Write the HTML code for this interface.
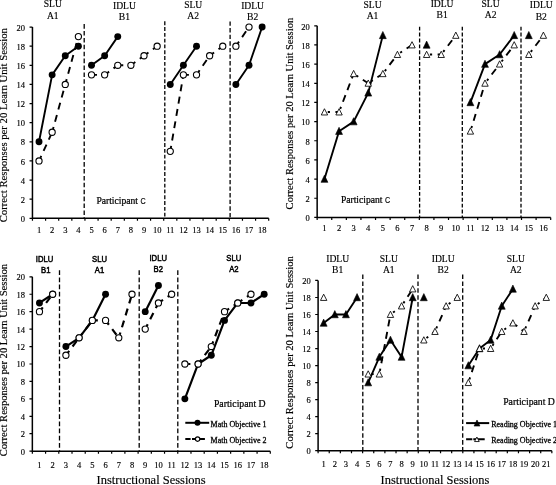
<!DOCTYPE html>
<html><head><meta charset="utf-8"><title>Figure</title>
<style>
html,body{margin:0;padding:0;background:#fff;}
body{width:556px;height:485px;overflow:hidden;}
svg{display:block;}
text{stroke:#000;stroke-width:.15px;}
.lg{stroke-width:.28px;}
.cal{stroke-width:.5px;}
.pt{stroke-width:.22px;}
</style></head><body>
<svg width="556" height="485" viewBox="0 0 556 485">
<rect width="556" height="485" fill="#fff"/>
<g>
<line x1="84.2" y1="24.1" x2="84.2" y2="218.3" stroke="#000" stroke-width="1.3" stroke-dasharray="4.55 2.35"/>
<line x1="164.8" y1="21.3" x2="164.8" y2="218.3" stroke="#000" stroke-width="1.3" stroke-dasharray="3.83 1.97"/>
<line x1="230.1" y1="21.5" x2="230.1" y2="218.3" stroke="#000" stroke-width="1.3" stroke-dasharray="4.36 2.24"/>
<path d="M32.45 27.05 V218.3 H268.7" fill="none" stroke="#000" stroke-width="1.5"/>
<path d="M32.45 218.3h-2.9M32.45 199.18h-2.9M32.45 180.05h-2.9M32.45 160.93h-2.9M32.45 141.8h-2.9M32.45 122.68h-2.9M32.45 103.55h-2.9M32.45 84.43h-2.9M32.45 65.3h-2.9M32.45 46.18h-2.9M32.45 27.05h-2.9M32.45 218.3v2.5M45.58 218.3v2.5M58.7 218.3v2.5M71.83 218.3v2.5M84.95 218.3v2.5M98.08 218.3v2.5M111.2 218.3v2.5M124.33 218.3v2.5M137.45 218.3v2.5M150.57 218.3v2.5M163.7 218.3v2.5M176.82 218.3v2.5M189.95 218.3v2.5M203.07 218.3v2.5M216.2 218.3v2.5M229.32 218.3v2.5M242.45 218.3v2.5M255.57 218.3v2.5M268.7 218.3v2.5" fill="none" stroke="#000" stroke-width="1.2"/>
<g font-family='"Liberation Serif", serif' font-size="8.5" fill="#000" stroke="#000" stroke-width="0.15">
<text x="25.05" y="221.9" text-anchor="end">0</text>
<text x="25.05" y="202.78" text-anchor="end">2</text>
<text x="25.05" y="183.65" text-anchor="end">4</text>
<text x="25.05" y="164.53" text-anchor="end">6</text>
<text x="25.05" y="145.4" text-anchor="end">8</text>
<text x="25.05" y="126.28" text-anchor="end">10</text>
<text x="25.05" y="107.15" text-anchor="end">12</text>
<text x="25.05" y="88.03" text-anchor="end">14</text>
<text x="25.05" y="68.9" text-anchor="end">16</text>
<text x="25.05" y="49.78" text-anchor="end">18</text>
<text x="25.05" y="30.65" text-anchor="end">20</text>
<text x="39.01" y="232.6" text-anchor="middle">1</text>
<text x="52.14" y="232.6" text-anchor="middle">2</text>
<text x="65.26" y="232.6" text-anchor="middle">3</text>
<text x="78.39" y="232.6" text-anchor="middle">4</text>
<text x="91.51" y="232.6" text-anchor="middle">5</text>
<text x="104.64" y="232.6" text-anchor="middle">6</text>
<text x="117.76" y="232.6" text-anchor="middle">7</text>
<text x="130.89" y="232.6" text-anchor="middle">8</text>
<text x="144.01" y="232.6" text-anchor="middle">9</text>
<text x="157.14" y="232.6" text-anchor="middle">10</text>
<text x="170.26" y="232.6" text-anchor="middle">11</text>
<text x="183.39" y="232.6" text-anchor="middle">12</text>
<text x="196.51" y="232.6" text-anchor="middle">13</text>
<text x="209.64" y="232.6" text-anchor="middle">14</text>
<text x="222.76" y="232.6" text-anchor="middle">15</text>
<text x="235.89" y="232.6" text-anchor="middle">16</text>
<text x="249.01" y="232.6" text-anchor="middle">17</text>
<text x="262.14" y="232.6" text-anchor="middle">18</text>
</g>
<polyline points="39.01,141.8 52.14,74.86 65.26,55.74 78.39,46.18" fill="none" stroke="#000" stroke-width="1.9" stroke-linejoin="round"/>
<polyline points="91.51,65.3 104.64,55.74 117.76,36.61" fill="none" stroke="#000" stroke-width="1.9" stroke-linejoin="round"/>
<polyline points="170.26,84.43 183.39,65.3 196.51,46.18" fill="none" stroke="#000" stroke-width="1.9" stroke-linejoin="round"/>
<polyline points="235.89,84.43 249.01,65.3 262.14,27.05" fill="none" stroke="#000" stroke-width="1.9" stroke-linejoin="round"/>
<circle cx="39.01" cy="141.8" r="3.45" fill="#000"/>
<circle cx="52.14" cy="74.86" r="3.45" fill="#000"/>
<circle cx="65.26" cy="55.74" r="3.45" fill="#000"/>
<circle cx="78.39" cy="46.18" r="3.45" fill="#000"/>
<circle cx="91.51" cy="65.3" r="3.45" fill="#000"/>
<circle cx="104.64" cy="55.74" r="3.45" fill="#000"/>
<circle cx="117.76" cy="36.61" r="3.45" fill="#000"/>
<circle cx="170.26" cy="84.43" r="3.45" fill="#000"/>
<circle cx="183.39" cy="65.3" r="3.45" fill="#000"/>
<circle cx="196.51" cy="46.18" r="3.45" fill="#000"/>
<circle cx="235.89" cy="84.43" r="3.45" fill="#000"/>
<circle cx="249.01" cy="65.3" r="3.45" fill="#000"/>
<circle cx="262.14" cy="27.05" r="3.45" fill="#000"/>
<path d="M39.01 160.93L52.14 132.24M52.14 132.24L65.26 84.43M65.26 84.43L78.39 36.61" fill="none" stroke="#000" stroke-width="1.9" stroke-dasharray="0 3.3 2.2 5.5 7 5.5 7 5.5 7 5.5 7 5.5 7 5.5 7 5.5 7 5.5"/>
<path d="M91.51 74.86L104.64 74.86M104.64 74.86L117.76 65.3M117.76 65.3L130.89 65.3M130.89 65.3L144.01 55.74M144.01 55.74L157.14 46.18" fill="none" stroke="#000" stroke-width="1.9" stroke-dasharray="0 3.3 2.2 5.5 7 5.5 7 5.5 7 5.5 7 5.5 7 5.5 7 5.5 7 5.5"/>
<path d="M170.26 151.36L183.39 74.86M183.39 74.86L196.51 74.86M196.51 74.86L209.64 55.74M209.64 55.74L222.76 46.18" fill="none" stroke="#000" stroke-width="1.9" stroke-dasharray="0 3.3 2.2 5.5 7 5.5 7 5.5 7 5.5 7 5.5 7 5.5 7 5.5 7 5.5"/>
<path d="M235.89 46.18L249.01 27.05" fill="none" stroke="#000" stroke-width="1.9" stroke-dasharray="0 3.3 2.2 5.5 7 5.5 7 5.5 7 5.5 7 5.5 7 5.5 7 5.5 7 5.5"/>
<circle cx="39.01" cy="160.93" r="3.1" fill="#fff" stroke="#000" stroke-width="1.1"/>
<circle cx="52.14" cy="132.24" r="3.1" fill="#fff" stroke="#000" stroke-width="1.1"/>
<circle cx="65.26" cy="84.43" r="3.1" fill="#fff" stroke="#000" stroke-width="1.1"/>
<circle cx="78.39" cy="36.61" r="3.1" fill="#fff" stroke="#000" stroke-width="1.1"/>
<circle cx="91.51" cy="74.86" r="3.1" fill="#fff" stroke="#000" stroke-width="1.1"/>
<circle cx="104.64" cy="74.86" r="3.1" fill="#fff" stroke="#000" stroke-width="1.1"/>
<circle cx="117.76" cy="65.3" r="3.1" fill="#fff" stroke="#000" stroke-width="1.1"/>
<circle cx="130.89" cy="65.3" r="3.1" fill="#fff" stroke="#000" stroke-width="1.1"/>
<circle cx="144.01" cy="55.74" r="3.1" fill="#fff" stroke="#000" stroke-width="1.1"/>
<circle cx="157.14" cy="46.18" r="3.1" fill="#fff" stroke="#000" stroke-width="1.1"/>
<circle cx="170.26" cy="151.36" r="3.1" fill="#fff" stroke="#000" stroke-width="1.1"/>
<circle cx="183.39" cy="74.86" r="3.1" fill="#fff" stroke="#000" stroke-width="1.1"/>
<circle cx="196.51" cy="74.86" r="3.1" fill="#fff" stroke="#000" stroke-width="1.1"/>
<circle cx="209.64" cy="55.74" r="3.1" fill="#fff" stroke="#000" stroke-width="1.1"/>
<circle cx="222.76" cy="46.18" r="3.1" fill="#fff" stroke="#000" stroke-width="1.1"/>
<circle cx="235.89" cy="46.18" r="3.1" fill="#fff" stroke="#000" stroke-width="1.1"/>
<circle cx="249.01" cy="27.05" r="3.1" fill="#fff" stroke="#000" stroke-width="1.1"/>
<text font-family='"Liberation Serif", serif' font-size="9.6" font-weight="normal" text-anchor="middle" stroke="#000" stroke-width="0.12"><tspan x="52.8" y="7.2">SLU</tspan><tspan x="52.8" y="19.1">A1</tspan></text>
<text font-family='"Liberation Serif", serif' font-size="9.6" font-weight="normal" text-anchor="middle" stroke="#000" stroke-width="0.12"><tspan x="124.4" y="8.6">IDLU</tspan><tspan x="124.4" y="19.9">B1</tspan></text>
<text font-family='"Liberation Serif", serif' font-size="9.6" font-weight="normal" text-anchor="middle" stroke="#000" stroke-width="0.12"><tspan x="193.2" y="7.5">SLU</tspan><tspan x="193.2" y="19.1">A2</tspan></text>
<text font-family='"Liberation Serif", serif' font-size="9.6" font-weight="normal" text-anchor="middle" stroke="#000" stroke-width="0.12"><tspan x="252.6" y="9">IDLU</tspan><tspan x="252.6" y="20">B2</tspan></text>
</g>
<g>
<line x1="419.6" y1="26.7" x2="419.6" y2="217.4" stroke="#000" stroke-width="1.3" stroke-dasharray="3.89 2.01"/>
<line x1="462.3" y1="26.7" x2="462.3" y2="217.4" stroke="#000" stroke-width="1.3" stroke-dasharray="3.89 2.01"/>
<line x1="521" y1="26.7" x2="521" y2="217.4" stroke="#000" stroke-width="1.3" stroke-dasharray="3.89 2.01"/>
<path d="M317.15 25.8 V217.4 H550.7" fill="none" stroke="#000" stroke-width="1.5"/>
<path d="M317.15 217.4h-2.9M317.15 198.24h-2.9M317.15 179.08h-2.9M317.15 159.92h-2.9M317.15 140.76h-2.9M317.15 121.6h-2.9M317.15 102.44h-2.9M317.15 83.28h-2.9M317.15 64.12h-2.9M317.15 44.96h-2.9M317.15 25.8h-2.9M317.15 217.4v2.5M331.75 217.4v2.5M346.34 217.4v2.5M360.94 217.4v2.5M375.54 217.4v2.5M390.13 217.4v2.5M404.73 217.4v2.5M419.33 217.4v2.5M433.93 217.4v2.5M448.52 217.4v2.5M463.12 217.4v2.5M477.72 217.4v2.5M492.31 217.4v2.5M506.91 217.4v2.5M521.51 217.4v2.5M536.1 217.4v2.5M550.7 217.4v2.5" fill="none" stroke="#000" stroke-width="1.2"/>
<g font-family='"Liberation Serif", serif' font-size="8.5" fill="#000" stroke="#000" stroke-width="0.15">
<text x="309.75" y="221.15" text-anchor="end">0</text>
<text x="309.75" y="201.99" text-anchor="end">2</text>
<text x="309.75" y="182.83" text-anchor="end">4</text>
<text x="309.75" y="163.67" text-anchor="end">6</text>
<text x="309.75" y="144.51" text-anchor="end">8</text>
<text x="309.75" y="125.35" text-anchor="end">10</text>
<text x="309.75" y="106.19" text-anchor="end">12</text>
<text x="309.75" y="87.03" text-anchor="end">14</text>
<text x="309.75" y="67.87" text-anchor="end">16</text>
<text x="309.75" y="48.71" text-anchor="end">18</text>
<text x="309.75" y="29.55" text-anchor="end">20</text>
<text x="324.45" y="231.3" text-anchor="middle">1</text>
<text x="339.05" y="231.3" text-anchor="middle">2</text>
<text x="353.64" y="231.3" text-anchor="middle">3</text>
<text x="368.24" y="231.3" text-anchor="middle">4</text>
<text x="382.84" y="231.3" text-anchor="middle">5</text>
<text x="397.43" y="231.3" text-anchor="middle">6</text>
<text x="412.03" y="231.3" text-anchor="middle">7</text>
<text x="426.63" y="231.3" text-anchor="middle">8</text>
<text x="441.22" y="231.3" text-anchor="middle">9</text>
<text x="455.82" y="231.3" text-anchor="middle">10</text>
<text x="470.42" y="231.3" text-anchor="middle">11</text>
<text x="485.01" y="231.3" text-anchor="middle">12</text>
<text x="499.61" y="231.3" text-anchor="middle">13</text>
<text x="514.21" y="231.3" text-anchor="middle">14</text>
<text x="528.8" y="231.3" text-anchor="middle">15</text>
<text x="543.4" y="231.3" text-anchor="middle">16</text>
</g>
<polyline points="324.45,179.08 339.05,131.18 353.64,121.6 368.24,92.86 382.84,35.38" fill="none" stroke="#000" stroke-width="1.9" stroke-linejoin="round"/>
<polyline points="470.42,102.44 485.01,64.12 499.61,54.54 514.21,35.38" fill="none" stroke="#000" stroke-width="1.9" stroke-linejoin="round"/>
<polygon points="324.45,175.18 321,182.33 327.9,182.33" fill="#000" stroke="#000" stroke-width="0.6"/>
<polygon points="339.05,127.28 335.6,134.43 342.5,134.43" fill="#000" stroke="#000" stroke-width="0.6"/>
<polygon points="353.64,117.7 350.19,124.85 357.09,124.85" fill="#000" stroke="#000" stroke-width="0.6"/>
<polygon points="368.24,88.96 364.79,96.11 371.69,96.11" fill="#000" stroke="#000" stroke-width="0.6"/>
<polygon points="382.84,31.48 379.39,38.63 386.29,38.63" fill="#000" stroke="#000" stroke-width="0.6"/>
<polygon points="426.63,41.06 423.18,48.21 430.08,48.21" fill="#000" stroke="#000" stroke-width="0.6"/>
<polygon points="470.42,98.54 466.97,105.69 473.87,105.69" fill="#000" stroke="#000" stroke-width="0.6"/>
<polygon points="485.01,60.22 481.56,67.37 488.46,67.37" fill="#000" stroke="#000" stroke-width="0.6"/>
<polygon points="499.61,50.64 496.16,57.79 503.06,57.79" fill="#000" stroke="#000" stroke-width="0.6"/>
<polygon points="514.21,31.48 510.76,38.63 517.66,38.63" fill="#000" stroke="#000" stroke-width="0.6"/>
<polygon points="528.8,31.48 525.35,38.63 532.25,38.63" fill="#000" stroke="#000" stroke-width="0.6"/>
<path d="M324.45 112.02L339.05 112.02M339.05 112.02L353.64 73.7M353.64 73.7L368.24 83.28M368.24 83.28L382.84 73.7M382.84 73.7L397.43 54.54M397.43 54.54L412.03 44.96" fill="none" stroke="#000" stroke-width="1.9" stroke-dasharray="0 3.3 2.2 5.5 7 5.5 7 5.5 7 5.5 7 5.5 7 5.5 7 5.5 7 5.5"/>
<path d="M426.63 54.54L441.22 54.54M441.22 54.54L455.82 35.38" fill="none" stroke="#000" stroke-width="1.9" stroke-dasharray="0 3.3 2.2 5.5 7 5.5 7 5.5 7 5.5 7 5.5 7 5.5 7 5.5 7 5.5"/>
<path d="M470.42 131.18L485.01 83.28M485.01 83.28L499.61 64.12M499.61 64.12L514.21 44.96" fill="none" stroke="#000" stroke-width="1.9" stroke-dasharray="0 3.3 2.2 5.5 7 5.5 7 5.5 7 5.5 7 5.5 7 5.5 7 5.5 7 5.5"/>
<path d="M528.8 54.54L543.4 35.38" fill="none" stroke="#000" stroke-width="1.9" stroke-dasharray="0 3.3 2.2 5.5 7 5.5 7 5.5 7 5.5 7 5.5 7 5.5 7 5.5 7 5.5"/>
<polygon points="324.45,108.72 321.25,114.97 327.65,114.97" fill="#fff" stroke="#000" stroke-width="0.85"/>
<polygon points="339.05,108.72 335.85,114.97 342.25,114.97" fill="#fff" stroke="#000" stroke-width="0.85"/>
<polygon points="353.64,70.4 350.44,76.65 356.84,76.65" fill="#fff" stroke="#000" stroke-width="0.85"/>
<polygon points="368.24,79.98 365.04,86.23 371.44,86.23" fill="#fff" stroke="#000" stroke-width="0.85"/>
<polygon points="382.84,70.4 379.64,76.65 386.04,76.65" fill="#fff" stroke="#000" stroke-width="0.85"/>
<polygon points="397.43,51.24 394.23,57.49 400.63,57.49" fill="#fff" stroke="#000" stroke-width="0.85"/>
<polygon points="412.03,41.66 408.83,47.91 415.23,47.91" fill="#fff" stroke="#000" stroke-width="0.85"/>
<polygon points="426.63,51.24 423.43,57.49 429.83,57.49" fill="#fff" stroke="#000" stroke-width="0.85"/>
<polygon points="441.22,51.24 438.02,57.49 444.42,57.49" fill="#fff" stroke="#000" stroke-width="0.85"/>
<polygon points="455.82,32.08 452.62,38.33 459.02,38.33" fill="#fff" stroke="#000" stroke-width="0.85"/>
<polygon points="470.42,127.88 467.22,134.13 473.62,134.13" fill="#fff" stroke="#000" stroke-width="0.85"/>
<polygon points="485.01,79.98 481.81,86.23 488.21,86.23" fill="#fff" stroke="#000" stroke-width="0.85"/>
<polygon points="499.61,60.82 496.41,67.07 502.81,67.07" fill="#fff" stroke="#000" stroke-width="0.85"/>
<polygon points="514.21,41.66 511.01,47.91 517.41,47.91" fill="#fff" stroke="#000" stroke-width="0.85"/>
<polygon points="528.8,51.24 525.6,57.49 532,57.49" fill="#fff" stroke="#000" stroke-width="0.85"/>
<polygon points="543.4,32.08 540.2,38.33 546.6,38.33" fill="#fff" stroke="#000" stroke-width="0.85"/>
<text font-family='"Liberation Serif", serif' font-size="9.6" font-weight="normal" text-anchor="middle" stroke="#000" stroke-width="0.12"><tspan x="372.5" y="7.5">SLU</tspan><tspan x="372.5" y="19.3">A1</tspan></text>
<text font-family='"Liberation Serif", serif' font-size="9.6" font-weight="normal" text-anchor="middle" stroke="#000" stroke-width="0.12"><tspan x="442.1" y="7">IDLU</tspan><tspan x="442.1" y="18.3">B1</tspan></text>
<text font-family='"Liberation Serif", serif' font-size="9.6" font-weight="normal" text-anchor="middle" stroke="#000" stroke-width="0.12"><tspan x="490.6" y="7">SLU</tspan><tspan x="490.6" y="18.3">A2</tspan></text>
<text font-family='"Liberation Serif", serif' font-size="9.6" font-weight="normal" text-anchor="middle" stroke="#000" stroke-width="0.12"><tspan x="541.3" y="8.3">IDLU</tspan><tspan x="541.3" y="19.6">B2</tspan></text>
</g>
<g>
<line x1="59.5" y1="270.2" x2="59.5" y2="451.15" stroke="#000" stroke-width="1.3" stroke-dasharray="4.75 2.45"/>
<line x1="139.2" y1="270.2" x2="139.2" y2="451.15" stroke="#000" stroke-width="1.3" stroke-dasharray="4.75 2.45"/>
<line x1="177.8" y1="270.2" x2="177.8" y2="451.15" stroke="#000" stroke-width="1.3" stroke-dasharray="4.75 2.45"/>
<path d="M32.35 276.8 V451.15 H270.3" fill="none" stroke="#000" stroke-width="1.5"/>
<path d="M32.35 451.15h-2.9M32.35 433.71h-2.9M32.35 416.28h-2.9M32.35 398.84h-2.9M32.35 381.41h-2.9M32.35 363.98h-2.9M32.35 346.54h-2.9M32.35 329.11h-2.9M32.35 311.67h-2.9M32.35 294.24h-2.9M32.35 276.8h-2.9M32.35 451.15v2.5M45.57 451.15v2.5M58.79 451.15v2.5M72.01 451.15v2.5M85.23 451.15v2.5M98.45 451.15v2.5M111.67 451.15v2.5M124.89 451.15v2.5M138.11 451.15v2.5M151.33 451.15v2.5M164.54 451.15v2.5M177.76 451.15v2.5M190.98 451.15v2.5M204.2 451.15v2.5M217.42 451.15v2.5M230.64 451.15v2.5M243.86 451.15v2.5M257.08 451.15v2.5M270.3 451.15v2.5" fill="none" stroke="#000" stroke-width="1.2"/>
<g font-family='"Liberation Serif", serif' font-size="8.5" fill="#000" stroke="#000" stroke-width="0.15">
<text x="24.95" y="454.65" text-anchor="end">0</text>
<text x="24.95" y="437.21" text-anchor="end">2</text>
<text x="24.95" y="419.78" text-anchor="end">4</text>
<text x="24.95" y="402.34" text-anchor="end">6</text>
<text x="24.95" y="384.91" text-anchor="end">8</text>
<text x="24.95" y="367.48" text-anchor="end">10</text>
<text x="24.95" y="350.04" text-anchor="end">12</text>
<text x="24.95" y="332.61" text-anchor="end">14</text>
<text x="24.95" y="315.17" text-anchor="end">16</text>
<text x="24.95" y="297.74" text-anchor="end">18</text>
<text x="24.95" y="280.3" text-anchor="end">20</text>
<text x="39.46" y="467.5" text-anchor="middle">1</text>
<text x="52.68" y="467.5" text-anchor="middle">2</text>
<text x="65.9" y="467.5" text-anchor="middle">3</text>
<text x="79.12" y="467.5" text-anchor="middle">4</text>
<text x="92.34" y="467.5" text-anchor="middle">5</text>
<text x="105.56" y="467.5" text-anchor="middle">6</text>
<text x="118.78" y="467.5" text-anchor="middle">7</text>
<text x="132" y="467.5" text-anchor="middle">8</text>
<text x="145.22" y="467.5" text-anchor="middle">9</text>
<text x="158.43" y="467.5" text-anchor="middle">10</text>
<text x="171.65" y="467.5" text-anchor="middle">11</text>
<text x="184.87" y="467.5" text-anchor="middle">12</text>
<text x="198.09" y="467.5" text-anchor="middle">13</text>
<text x="211.31" y="467.5" text-anchor="middle">14</text>
<text x="224.53" y="467.5" text-anchor="middle">15</text>
<text x="237.75" y="467.5" text-anchor="middle">16</text>
<text x="250.97" y="467.5" text-anchor="middle">17</text>
<text x="264.19" y="467.5" text-anchor="middle">18</text>
</g>
<polyline points="39.46,302.95 52.68,294.24" fill="none" stroke="#000" stroke-width="2.15" stroke-linejoin="round"/>
<polyline points="65.9,346.54 79.12,337.82 92.34,320.39 105.56,294.24" fill="none" stroke="#000" stroke-width="2.15" stroke-linejoin="round"/>
<polyline points="145.22,311.67 158.43,285.52" fill="none" stroke="#000" stroke-width="2.15" stroke-linejoin="round"/>
<polyline points="184.87,398.84 198.09,363.98 211.31,355.26 224.53,320.39 237.75,302.95 250.97,302.95 264.19,294.24" fill="none" stroke="#000" stroke-width="2.15" stroke-linejoin="round"/>
<circle cx="39.46" cy="302.95" r="3.45" fill="#000"/>
<circle cx="52.68" cy="294.24" r="3.45" fill="#000"/>
<circle cx="65.9" cy="346.54" r="3.45" fill="#000"/>
<circle cx="79.12" cy="337.82" r="3.45" fill="#000"/>
<circle cx="92.34" cy="320.39" r="3.45" fill="#000"/>
<circle cx="105.56" cy="294.24" r="3.45" fill="#000"/>
<circle cx="145.22" cy="311.67" r="3.45" fill="#000"/>
<circle cx="158.43" cy="285.52" r="3.45" fill="#000"/>
<circle cx="184.87" cy="398.84" r="3.45" fill="#000"/>
<circle cx="198.09" cy="363.98" r="3.45" fill="#000"/>
<circle cx="211.31" cy="355.26" r="3.45" fill="#000"/>
<circle cx="224.53" cy="320.39" r="3.45" fill="#000"/>
<circle cx="237.75" cy="302.95" r="3.45" fill="#000"/>
<circle cx="250.97" cy="302.95" r="3.45" fill="#000"/>
<circle cx="264.19" cy="294.24" r="3.45" fill="#000"/>
<path d="M39.46 311.67L52.68 294.24" fill="none" stroke="#000" stroke-width="2.15" stroke-dasharray="0 3.3 2.2 5.5 7 5.5 7 5.5 7 5.5 7 5.5 7 5.5 7 5.5 7 5.5"/>
<path d="M65.9 355.26L79.12 337.82M79.12 337.82L92.34 320.39M92.34 320.39L105.56 320.39M105.56 320.39L118.78 337.82M118.78 337.82L132 294.24" fill="none" stroke="#000" stroke-width="2.15" stroke-dasharray="0 3.3 2.2 5.5 7 5.5 7 5.5 7 5.5 7 5.5 7 5.5 7 5.5 7 5.5"/>
<path d="M145.22 329.11L158.43 302.95M158.43 302.95L171.65 294.24" fill="none" stroke="#000" stroke-width="2.15" stroke-dasharray="0 3.3 2.2 5.5 7 5.5 7 5.5 7 5.5 7 5.5 7 5.5 7 5.5 7 5.5"/>
<path d="M184.87 363.98L198.09 363.98M198.09 363.98L211.31 346.54M211.31 346.54L224.53 311.67M224.53 311.67L237.75 302.95M237.75 302.95L250.97 294.24" fill="none" stroke="#000" stroke-width="2.15" stroke-dasharray="0 3.3 2.2 5.5 7 5.5 7 5.5 7 5.5 7 5.5 7 5.5 7 5.5 7 5.5"/>
<circle cx="39.46" cy="311.67" r="3.1" fill="#fff" stroke="#000" stroke-width="1.1"/>
<circle cx="52.68" cy="294.24" r="3.1" fill="#fff" stroke="#000" stroke-width="1.1"/>
<circle cx="65.9" cy="355.26" r="3.1" fill="#fff" stroke="#000" stroke-width="1.1"/>
<circle cx="79.12" cy="337.82" r="3.1" fill="#fff" stroke="#000" stroke-width="1.1"/>
<circle cx="92.34" cy="320.39" r="3.1" fill="#fff" stroke="#000" stroke-width="1.1"/>
<circle cx="105.56" cy="320.39" r="3.1" fill="#fff" stroke="#000" stroke-width="1.1"/>
<circle cx="118.78" cy="337.82" r="3.1" fill="#fff" stroke="#000" stroke-width="1.1"/>
<circle cx="132" cy="294.24" r="3.1" fill="#fff" stroke="#000" stroke-width="1.1"/>
<circle cx="145.22" cy="329.11" r="3.1" fill="#fff" stroke="#000" stroke-width="1.1"/>
<circle cx="158.43" cy="302.95" r="3.1" fill="#fff" stroke="#000" stroke-width="1.1"/>
<circle cx="171.65" cy="294.24" r="3.1" fill="#fff" stroke="#000" stroke-width="1.1"/>
<circle cx="184.87" cy="363.98" r="3.1" fill="#fff" stroke="#000" stroke-width="1.1"/>
<circle cx="198.09" cy="363.98" r="3.1" fill="#fff" stroke="#000" stroke-width="1.1"/>
<circle cx="211.31" cy="346.54" r="3.1" fill="#fff" stroke="#000" stroke-width="1.1"/>
<circle cx="224.53" cy="311.67" r="3.1" fill="#fff" stroke="#000" stroke-width="1.1"/>
<circle cx="237.75" cy="302.95" r="3.1" fill="#fff" stroke="#000" stroke-width="1.1"/>
<circle cx="250.97" cy="294.24" r="3.1" fill="#fff" stroke="#000" stroke-width="1.1"/>
<g font-family='"Liberation Sans", sans-serif' font-size="8.5" text-anchor="middle"><text class="cal" transform="translate(44.5 262) scale(0.9 1)">IDLU</text><text class="cal" transform="translate(45.7 273.3) scale(0.9 1)">B1</text></g>
<g font-family='"Liberation Sans", sans-serif' font-size="8.5" text-anchor="middle"><text class="cal" transform="translate(99.5 262) scale(0.9 1)">SLU</text><text class="cal" transform="translate(99.5 273.3) scale(0.9 1)">A1</text></g>
<g font-family='"Liberation Sans", sans-serif' font-size="8.5" text-anchor="middle"><text class="cal" transform="translate(158.2 261.1) scale(0.9 1)">IDLU</text><text class="cal" transform="translate(158.2 272.3) scale(0.9 1)">B2</text></g>
<g font-family='"Liberation Sans", sans-serif' font-size="8.5" text-anchor="middle"><text class="cal" transform="translate(233.8 261.1) scale(0.9 1)">SLU</text><text class="cal" transform="translate(233.8 272.3) scale(0.9 1)">A2</text></g>
</g>
<g>
<line x1="362.8" y1="274.5" x2="362.8" y2="450.7" stroke="#000" stroke-width="1.3" stroke-dasharray="4.55 2.35"/>
<line x1="418" y1="274.5" x2="418" y2="450.7" stroke="#000" stroke-width="1.3" stroke-dasharray="4.55 2.35"/>
<line x1="462.7" y1="274.5" x2="462.7" y2="450.7" stroke="#000" stroke-width="1.3" stroke-dasharray="4.55 2.35"/>
<path d="M318.1 280.45 V450.7 H551.85" fill="none" stroke="#000" stroke-width="1.5"/>
<path d="M318.1 450.7h-2.9M318.1 433.68h-2.9M318.1 416.65h-2.9M318.1 399.62h-2.9M318.1 382.6h-2.9M318.1 365.57h-2.9M318.1 348.55h-2.9M318.1 331.52h-2.9M318.1 314.5h-2.9M318.1 297.48h-2.9M318.1 280.45h-2.9M318.1 450.7v2.5M329.23 450.7v2.5M340.36 450.7v2.5M351.49 450.7v2.5M362.62 450.7v2.5M373.75 450.7v2.5M384.89 450.7v2.5M396.02 450.7v2.5M407.15 450.7v2.5M418.28 450.7v2.5M429.41 450.7v2.5M440.54 450.7v2.5M451.67 450.7v2.5M462.8 450.7v2.5M473.93 450.7v2.5M485.06 450.7v2.5M496.2 450.7v2.5M507.33 450.7v2.5M518.46 450.7v2.5M529.59 450.7v2.5M540.72 450.7v2.5M551.85 450.7v2.5" fill="none" stroke="#000" stroke-width="1.2"/>
<g font-family='"Liberation Serif", serif' font-size="8.5" fill="#000" stroke="#000" stroke-width="0.15">
<text x="310.7" y="454.1" text-anchor="end">0</text>
<text x="310.7" y="437.07" text-anchor="end">2</text>
<text x="310.7" y="420.05" text-anchor="end">4</text>
<text x="310.7" y="403.02" text-anchor="end">6</text>
<text x="310.7" y="386" text-anchor="end">8</text>
<text x="310.7" y="368.97" text-anchor="end">10</text>
<text x="310.7" y="351.95" text-anchor="end">12</text>
<text x="310.7" y="334.92" text-anchor="end">14</text>
<text x="310.7" y="317.9" text-anchor="end">16</text>
<text x="310.7" y="300.88" text-anchor="end">18</text>
<text x="310.7" y="283.85" text-anchor="end">20</text>
<text x="323.67" y="466.7" text-anchor="middle">1</text>
<text x="334.8" y="466.7" text-anchor="middle">2</text>
<text x="345.93" y="466.7" text-anchor="middle">3</text>
<text x="357.06" y="466.7" text-anchor="middle">4</text>
<text x="368.19" y="466.7" text-anchor="middle">5</text>
<text x="379.32" y="466.7" text-anchor="middle">6</text>
<text x="390.45" y="466.7" text-anchor="middle">7</text>
<text x="401.58" y="466.7" text-anchor="middle">8</text>
<text x="412.71" y="466.7" text-anchor="middle">9</text>
<text x="423.84" y="466.7" text-anchor="middle">10</text>
<text x="434.98" y="466.7" text-anchor="middle">11</text>
<text x="446.11" y="466.7" text-anchor="middle">12</text>
<text x="457.24" y="466.7" text-anchor="middle">13</text>
<text x="468.37" y="466.7" text-anchor="middle">14</text>
<text x="479.5" y="466.7" text-anchor="middle">15</text>
<text x="490.63" y="466.7" text-anchor="middle">16</text>
<text x="501.76" y="466.7" text-anchor="middle">17</text>
<text x="512.89" y="466.7" text-anchor="middle">18</text>
<text x="524.02" y="466.7" text-anchor="middle">19</text>
<text x="535.15" y="466.7" text-anchor="middle">20</text>
<text x="546.28" y="466.7" text-anchor="middle">21</text>
</g>
<polyline points="323.67,323.01 334.8,314.5 345.93,314.5 357.06,297.48" fill="none" stroke="#000" stroke-width="1.9" stroke-linejoin="round"/>
<polyline points="368.19,382.6 379.32,357.06 390.45,340.04 401.58,357.06 412.71,297.48" fill="none" stroke="#000" stroke-width="1.9" stroke-linejoin="round"/>
<polyline points="468.37,365.57 479.5,348.55 490.63,340.04 501.76,305.99 512.89,288.96" fill="none" stroke="#000" stroke-width="1.9" stroke-linejoin="round"/>
<polygon points="323.67,319.11 320.22,326.26 327.12,326.26" fill="#000" stroke="#000" stroke-width="0.6"/>
<polygon points="334.8,310.6 331.35,317.75 338.25,317.75" fill="#000" stroke="#000" stroke-width="0.6"/>
<polygon points="345.93,310.6 342.48,317.75 349.38,317.75" fill="#000" stroke="#000" stroke-width="0.6"/>
<polygon points="357.06,293.58 353.61,300.73 360.51,300.73" fill="#000" stroke="#000" stroke-width="0.6"/>
<polygon points="368.19,378.7 364.74,385.85 371.64,385.85" fill="#000" stroke="#000" stroke-width="0.6"/>
<polygon points="379.32,353.16 375.87,360.31 382.77,360.31" fill="#000" stroke="#000" stroke-width="0.6"/>
<polygon points="390.45,336.14 387,343.29 393.9,343.29" fill="#000" stroke="#000" stroke-width="0.6"/>
<polygon points="401.58,353.16 398.13,360.31 405.03,360.31" fill="#000" stroke="#000" stroke-width="0.6"/>
<polygon points="412.71,293.58 409.26,300.73 416.16,300.73" fill="#000" stroke="#000" stroke-width="0.6"/>
<polygon points="423.84,293.58 420.39,300.73 427.29,300.73" fill="#000" stroke="#000" stroke-width="0.6"/>
<polygon points="468.37,361.68 464.92,368.82 471.82,368.82" fill="#000" stroke="#000" stroke-width="0.6"/>
<polygon points="479.5,344.65 476.05,351.8 482.95,351.8" fill="#000" stroke="#000" stroke-width="0.6"/>
<polygon points="490.63,336.14 487.18,343.29 494.08,343.29" fill="#000" stroke="#000" stroke-width="0.6"/>
<polygon points="501.76,302.09 498.31,309.24 505.21,309.24" fill="#000" stroke="#000" stroke-width="0.6"/>
<polygon points="512.89,285.06 509.44,292.21 516.34,292.21" fill="#000" stroke="#000" stroke-width="0.6"/>
<path d="M368.19 374.09L379.32 374.09M379.32 374.09L390.45 314.5M390.45 314.5L401.58 305.99M401.58 305.99L412.71 288.96" fill="none" stroke="#000" stroke-width="1.9" stroke-dasharray="0 3.3 2.2 5.5 7 5.5 7 5.5 7 5.5 7 5.5 7 5.5 7 5.5 7 5.5"/>
<path d="M423.84 340.04L434.98 331.52M434.98 331.52L446.11 305.99M446.11 305.99L457.24 297.48" fill="none" stroke="#000" stroke-width="1.9" stroke-dasharray="0 3.3 2.2 5.5 7 5.5 7 5.5 7 5.5 7 5.5 7 5.5 7 5.5 7 5.5"/>
<path d="M468.37 382.6L479.5 348.55M479.5 348.55L490.63 348.55M490.63 348.55L501.76 331.52M501.76 331.52L512.89 323.01M512.89 323.01L524.02 331.52M524.02 331.52L535.15 305.99M535.15 305.99L546.28 297.48" fill="none" stroke="#000" stroke-width="1.9" stroke-dasharray="0 3.3 2.2 5.5 7 5.5 7 5.5 7 5.5 7 5.5 7 5.5 7 5.5 7 5.5"/>
<polygon points="323.67,294.18 320.47,300.43 326.87,300.43" fill="#fff" stroke="#000" stroke-width="0.85"/>
<polygon points="368.19,370.79 364.99,377.04 371.39,377.04" fill="#fff" stroke="#000" stroke-width="0.85"/>
<polygon points="379.32,370.79 376.12,377.04 382.52,377.04" fill="#fff" stroke="#000" stroke-width="0.85"/>
<polygon points="390.45,311.2 387.25,317.45 393.65,317.45" fill="#fff" stroke="#000" stroke-width="0.85"/>
<polygon points="401.58,302.69 398.38,308.94 404.78,308.94" fill="#fff" stroke="#000" stroke-width="0.85"/>
<polygon points="412.71,285.66 409.51,291.91 415.91,291.91" fill="#fff" stroke="#000" stroke-width="0.85"/>
<polygon points="423.84,336.74 420.64,342.99 427.04,342.99" fill="#fff" stroke="#000" stroke-width="0.85"/>
<polygon points="434.98,328.22 431.78,334.47 438.18,334.47" fill="#fff" stroke="#000" stroke-width="0.85"/>
<polygon points="446.11,302.69 442.91,308.94 449.31,308.94" fill="#fff" stroke="#000" stroke-width="0.85"/>
<polygon points="457.24,294.18 454.04,300.43 460.44,300.43" fill="#fff" stroke="#000" stroke-width="0.85"/>
<polygon points="468.37,379.3 465.17,385.55 471.57,385.55" fill="#fff" stroke="#000" stroke-width="0.85"/>
<polygon points="479.5,345.25 476.3,351.5 482.7,351.5" fill="#fff" stroke="#000" stroke-width="0.85"/>
<polygon points="490.63,345.25 487.43,351.5 493.83,351.5" fill="#fff" stroke="#000" stroke-width="0.85"/>
<polygon points="501.76,328.22 498.56,334.47 504.96,334.47" fill="#fff" stroke="#000" stroke-width="0.85"/>
<polygon points="512.89,319.71 509.69,325.96 516.09,325.96" fill="#fff" stroke="#000" stroke-width="0.85"/>
<polygon points="524.02,328.22 520.82,334.47 527.22,334.47" fill="#fff" stroke="#000" stroke-width="0.85"/>
<polygon points="535.15,302.69 531.95,308.94 538.35,308.94" fill="#fff" stroke="#000" stroke-width="0.85"/>
<polygon points="546.28,294.18 543.08,300.43 549.48,300.43" fill="#fff" stroke="#000" stroke-width="0.85"/>
<text font-family='"Liberation Serif", serif' font-size="9.6" font-weight="normal" text-anchor="middle" stroke="#000" stroke-width="0.12"><tspan x="337.7" y="262.3">IDLU</tspan><tspan x="337.7" y="273.1">B1</tspan></text>
<text font-family='"Liberation Serif", serif' font-size="9.6" font-weight="normal" text-anchor="middle" stroke="#000" stroke-width="0.12"><tspan x="388.8" y="262.3">SLU</tspan><tspan x="388.8" y="273.1">A1</tspan></text>
<text font-family='"Liberation Serif", serif' font-size="9.6" font-weight="normal" text-anchor="middle" stroke="#000" stroke-width="0.12"><tspan x="443.2" y="262.3">IDLU</tspan><tspan x="443.2" y="273.1">B2</tspan></text>
<text font-family='"Liberation Serif", serif' font-size="9.6" font-weight="normal" text-anchor="middle" stroke="#000" stroke-width="0.12"><tspan x="515.8" y="262.3">SLU</tspan><tspan x="515.8" y="273.1">A2</tspan></text>
</g>
<text font-family='"Liberation Serif", serif' font-size="10.7" text-anchor="middle" transform="translate(7 125.2) rotate(-90)">Correct Responses per 20 Learn Unit Session</text>
<text font-family='"Liberation Serif", serif' font-size="10.56" text-anchor="middle" transform="translate(293.2 113.6) rotate(-90)">Correct Responses per 20 Learn Unit Session</text>
<text font-family='"Liberation Serif", serif' font-size="10.6" text-anchor="middle" transform="translate(7 360.15) rotate(-90)">Correct Responses per 20 Learn Unit Session</text>
<text font-family='"Liberation Serif", serif' font-size="10.6" text-anchor="middle" transform="translate(293.2 352.45) rotate(-90)">Correct Responses per 20 Learn Unit Session</text>
<text font-family='"Liberation Serif", serif' font-size="12.47" text-anchor="middle" x="151.15" y="484.4">Instructional Sessions</text>
<text font-family='"Liberation Serif", serif' font-size="12.45" text-anchor="middle" x="435.0" y="483.8">Instructional Sessions</text>
<text font-family='"Liberation Serif", serif' font-size="9.6" class="pt" x="96.4" y="204">Participant</text>
<text font-family='"Liberation Sans", sans-serif' font-size="9" transform="translate(140.6 204) scale(0.8 1)">C</text>
<text font-family='"Liberation Serif", serif' font-size="9.6" class="pt" x="340.9" y="202.8">Participant</text>
<text font-family='"Liberation Sans", sans-serif' font-size="9" transform="translate(385.1 202.8) scale(0.8 1)">C</text>
<text font-family='"Liberation Serif", serif' font-size="9.75" class="pt" x="213.9" y="406.5">Participant D</text>
<text font-family='"Liberation Serif", serif' font-size="9.75" class="pt" x="503.2" y="405.1">Participant D</text>
<path d="M185.3 422.8H209.2" stroke="#000" stroke-width="2" fill="none"/>
<circle cx="197.5" cy="422.8" r="3" fill="#000"/>
<text font-family='"Liberation Serif", serif' font-size="8" class="lg" x="210.6" y="426.7">Math Objective 1</text>
<path d="M185.3 439.1H190.6M192 439.1H204.9" stroke="#000" stroke-width="2" fill="none"/>
<circle cx="197.6" cy="439.1" r="2.2" fill="#fff" stroke="#000" stroke-width="1.15"/>
<text font-family='"Liberation Serif", serif' font-size="8" class="lg" x="210.6" y="443.0">Math Objective 2</text>
<path d="M466.1 423.1H489.2" stroke="#000" stroke-width="2" fill="none"/>
<polygon points="477,419.99 474.07,426.06 479.93,426.06" fill="#000" stroke="#000" stroke-width="0.6"/>
<text font-family='"Liberation Serif", serif' font-size="8" class="lg" x="491.2" y="426.6">Reading Objective 1</text>
<path d="M466.1 439.2H472.3M473.3 439.2H484.7" stroke="#000" stroke-width="2" fill="none"/>
<polygon points="476.9,437 474.57,441.55 479.23,441.55" fill="#fff" stroke="#000" stroke-width="0.85"/>
<text font-family='"Liberation Serif", serif' font-size="8" class="lg" x="491.2" y="442.5">Reading Objective 2</text>
</svg>
</body></html>
